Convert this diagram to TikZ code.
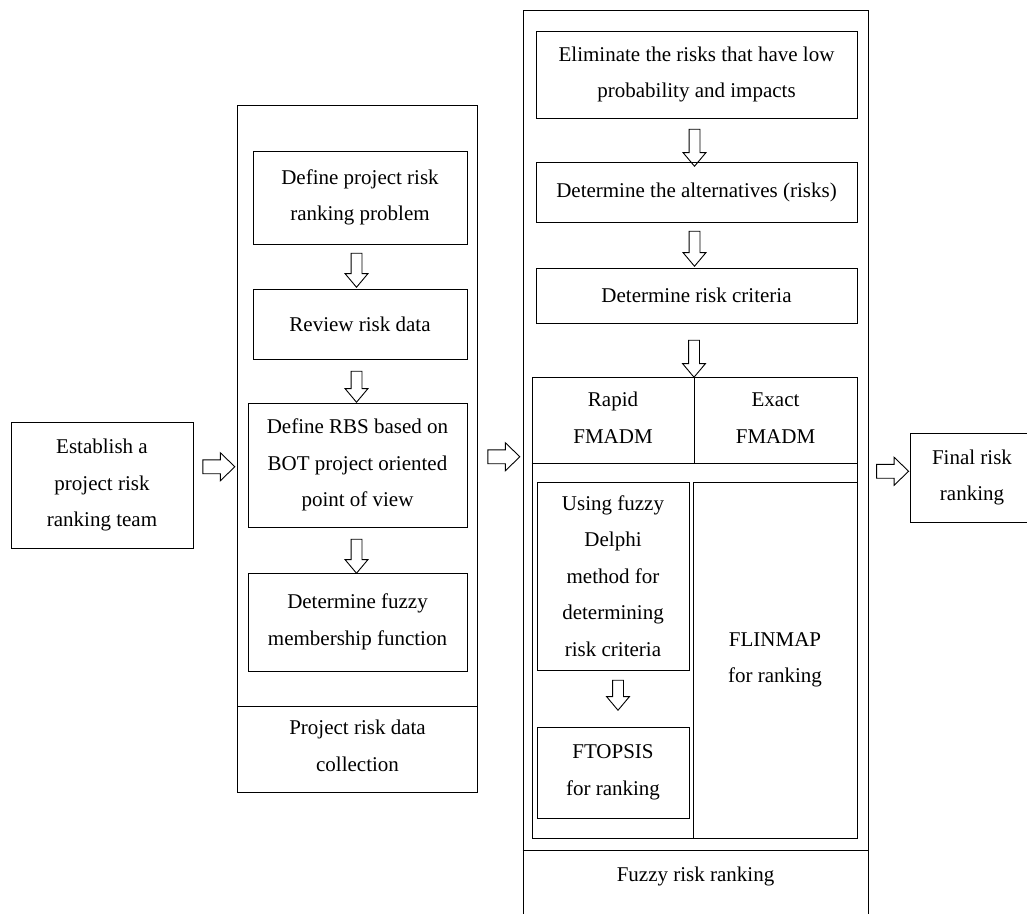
\documentclass[tikz,border=0pt]{standalone}
\usepackage{fontspec}
\setmainfont{Liberation Serif}
\usetikzlibrary{shapes.arrows,calc}
\begin{document}
\begin{tikzpicture}[x=1pt,y=-1pt,
  frame/.style={draw, line width=0.9pt},
  box/.style={draw, line width=0.9pt, inner sep=0pt, align=center,
    font=\fontsize{21}{36.6}\selectfont},
  txt/.style={inner sep=0pt, align=center, font=\fontsize{21}{36.6}\selectfont},
  sz/.style 2 args={minimum width=#1pt, minimum height=#2pt},
  harrow/.style={single arrow, draw, line width=0.9pt, inner xsep=0pt, inner ysep=6.5pt,
    minimum height=32pt,
    single arrow head extend=7pt, single arrow tip angle=88},
  darrow/.style={single arrow, draw, line width=0.9pt, inner xsep=0pt, inner ysep=5pt,
    rotate=-90,
    single arrow head extend=6pt, single arrow tip angle=80},
]
\useasboundingbox (0,0) rectangle (1027,913);

% ---- first stage
\node[box, sz={182}{126}] (team) at (102,485) {Establish a\\project risk\\ranking team};

% ---- data collection column
\node[frame, sz={240}{687}] (midframe) at (357.5,448.5) {};
\draw[line width=0.9pt] (midframe.west |- 0,706) -- (midframe.east |- 0,706);
\node[txt] (collect) at (357.5,746) {Project risk data\\collection};

\node[box, sz={214}{93}]  (define) at (360,197.5) {Define project risk\\ranking problem};
\node[box, sz={214}{70}]  (review) at (360,324)   {Review risk data};
\node[box, sz={219}{124}] (rbs)    at (357.5,465) {Define RBS based on\\BOT project oriented\\point of view};
\node[box, sz={219}{98}]  (member) at (357.5,622) {Determine fuzzy\\membership function};

\node[darrow, minimum height=34pt] (d1) at (356.5,267)   {};
\node[darrow, minimum height=31pt] (d2) at (356.5,383.5) {};
\node[darrow, minimum height=34pt] (d3) at (356.5,553)   {};

% ---- fuzzy ranking column
\node[frame, sz={345}{910}] (rightframe) at (695.5,465) {};
\draw[line width=0.9pt] (rightframe.west |- 0,850) -- (rightframe.east |- 0,850);
\node[txt] (fuzzyrank) at (695.5,876) {Fuzzy risk ranking};

\node[box, sz={321}{87}] (elim) at (696.5,74.5) {Eliminate the risks that have low\\probability and impacts};
\node[box, sz={321}{60}] (alt)  at (696.5,192)  {Determine the alternatives (risks)};
\node[box, sz={321}{55}] (crit) at (696.5,295.5) {Determine risk criteria};

\node[darrow, minimum height=37pt] (d4) at (694.5,144.5) {};
\node[darrow, minimum height=35pt] (d5) at (694.5,245.5) {};
\node[darrow, minimum height=37pt] (d6) at (694,355.5)   {};

% FMADM block with its two branches
\node[frame, sz={325}{461}] (fmadm) at (694.5,607.5) {};
\draw[line width=0.9pt] (fmadm.west |- 0,463) -- (fmadm.east |- 0,463);
\draw[line width=0.9pt] (694,0 |- fmadm.north) -- (694,463);
\node[txt] (rapid) at (613,418)   {Rapid\\FMADM};
\node[txt] (exact) at (775.5,418) {Exact\\FMADM};

\node[box, sz={152}{188}] (delphi)  at (613,576)   {Using fuzzy\\Delphi\\method for\\determining\\risk criteria};
\node[box, sz={152}{91}]  (ftopsis) at (613,772.5) {FTOPSIS\\for ranking};
\node[box, sz={164}{356}] (flinmap) at (775,660)   {FLINMAP\\for ranking};

\node[darrow, minimum height=30pt] (d7) at (618,692) {};

% ---- result
\node[box, sz={124}{89}] (final) at (972,477.5) {Final risk\\ranking};

% ---- stage arrows
\node[harrow] (h1) at ($(team.east)!0.5!(midframe.west)$ |- 0,477) {};
\node[harrow] (h2) at ($(midframe.east)!0.5!(rightframe.west)$ |- 0,477) {};
\node[harrow] (h3) at ($(rightframe.east)!0.5!(final.west)$ |- 0,481) {};
\end{tikzpicture}
\end{document}
